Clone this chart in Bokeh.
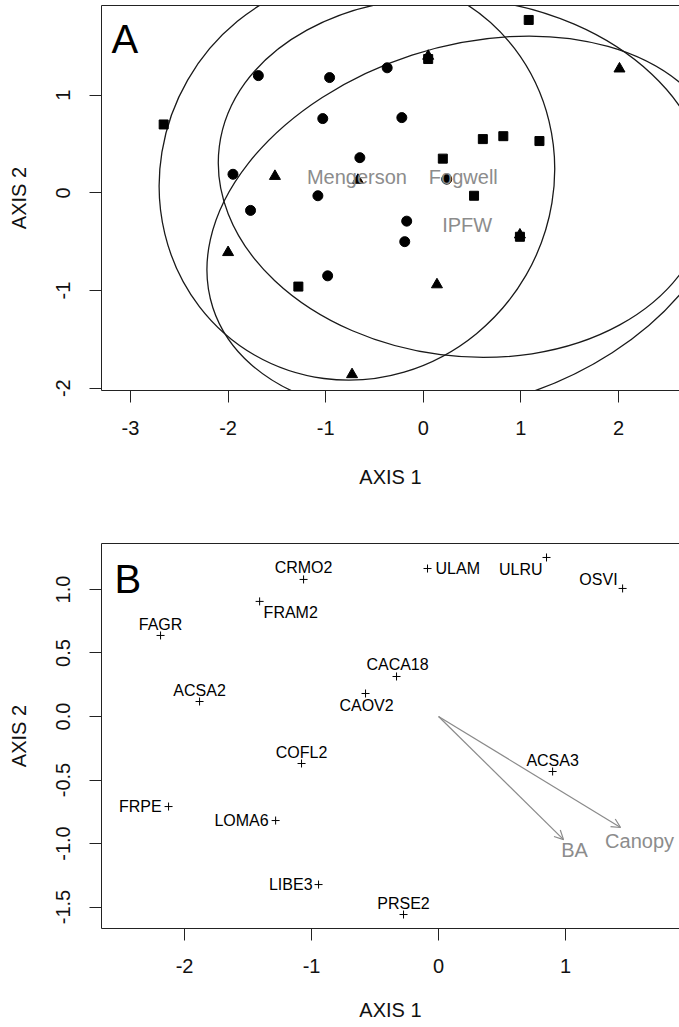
import math
from bokeh.plotting import figure
from bokeh.models import (Range1d, LinearAxis, FixedTicker, Label, Arrow, OpenHead,
                          ColumnDataSource, PrintfTickFormatter)
from bokeh.layouts import column
from bokeh.embed import file_html
from bokeh.resources import INLINE
from bokeh.core.properties import value

FONT = "Liberation Sans"
GREY = "#8c8c8c"

# ---------------- Panel A data ----------------
circle_x = [-1.69, -0.96, -1.03, -1.95, -1.08, -1.77, -0.37, -0.22, -0.65, 0.24, -0.17, -0.19, -0.98]
circle_y = [1.20, 1.18, 0.76, 0.19, -0.03, -0.18, 1.28, 0.77, 0.36, 0.14, -0.29, -0.50, -0.85]
square_x = [-2.66, 0.05, 1.08, 0.20, 0.61, 0.82, 1.19, 0.52, 0.99, -1.28]
square_y = [0.70, 1.37, 1.77, 0.35, 0.55, 0.58, 0.53, -0.03, -0.45, -0.96]
triangle_x = [-1.52, 0.05, 2.01, -0.67, 0.99, 0.14, -0.73, -2.00]
triangle_y = [0.17, 1.40, 1.27, 0.13, -0.43, -0.94, -1.86, -0.61]

site_names = ["Mengerson", "Fogwell", "IPFW"]
site_x = [-0.68, 0.41, 0.45]
site_y = [0.157, 0.157, -0.33]
ell_semi_major = [2.10, 2.52, 2.74]
ell_semi_minor = [2.00, 1.83, 1.83]
ell_angle_deg = [60.0, -7.3, 18.0]

a_xticks = [-3, -2, -1, 0, 1, 2]
a_yticks = [-2, -1, 0, 1]

# ---------------- Panel B data ----------------
species = ["CRMO2", "FRAM2", "FAGR", "ACSA2", "CACA18", "CAOV2", "ULAM", "ULRU",
           "OSVI", "COFL2", "ACSA3", "FRPE", "LOMA6", "LIBE3", "PRSE2"]
sp_x = [-1.063, -1.409, -2.189, -1.882, -0.331, -0.575, -0.087, 0.850,
        1.449, -1.079, 0.898, -2.126, -1.283, -0.945, -0.276]
sp_y = [1.079, 0.906, 0.638, 0.118, 0.315, 0.181, 1.165, 1.252,
        1.008, -0.370, -0.433, -0.709, -0.819, -1.323, -1.559]

env_names = ["BA", "Canopy"]
env_x = [0.984, 1.433]
env_y = [-0.969, -0.874]

b_xticks = [-2, -1, 0, 1]
b_yticks = [-1.5, -1.0, -0.5, 0.0, 0.5, 1.0]

# label placement (screen px offsets of label centre from point, and alignment)
sp_align = ["center", "left", "center", "center", "center", "center", "left", "right",
            "right", "center", "center", "right", "right", "right", "center"]
sp_dx = [0, 4, 0, 0, 1, 1, 8, -4, -5, 0, 0, -7, -7, -6, 0]
sp_dy = [-12, 11, -11, -11, -12, 12, 0, 12, -9, -11, -11, 0, 0, 0, -11]
env_dx = [11, 19]
env_dy = [10, 13]


def style_axes(p, xticks, yticks, fmt_x, fmt_y, x_std, x_lab_std, y_std, y_lab_std):
    p.xaxis.ticker = FixedTicker(ticks=xticks)
    p.yaxis.ticker = FixedTicker(ticks=yticks)
    p.xaxis.formatter = PrintfTickFormatter(format=fmt_x)
    p.yaxis.formatter = PrintfTickFormatter(format=fmt_y)
    for ax in (p.xaxis[0], p.yaxis[0]):
        ax.major_tick_out = 12
        ax.major_tick_in = 0
        ax.minor_tick_line_color = None
        ax.major_tick_line_color = "#222222"
        ax.axis_line_color = "#222222"
        ax.major_label_text_font = FONT
        ax.major_label_text_font_size = "20px"
        ax.major_label_text_color = "#111111"
        ax.axis_label_text_font = FONT
        ax.axis_label_text_font_size = "20px"
        ax.axis_label_text_font_style = "normal"
        ax.axis_label_text_color = "#111111"
    p.xaxis.axis_label = "AXIS 1"
    p.yaxis.axis_label = "AXIS 2"
    p.xaxis.major_label_standoff = x_std
    p.xaxis.axis_label_standoff = x_lab_std
    p.yaxis.major_label_standoff = y_std
    p.yaxis.axis_label_standoff = y_lab_std
    p.yaxis.major_label_orientation = "parallel"
    p.xgrid.visible = False
    p.ygrid.visible = False
    p.outline_line_color = None
    top = LinearAxis(ticker=FixedTicker(ticks=[]), major_tick_out=0, major_tick_in=0,
                     minor_tick_out=0, minor_tick_in=0, major_label_text_font_size="0px",
                     axis_line_color="#222222")
    p.add_layout(top, "above")


# ---------------- Panel A ----------------
A_X = (-3.297, 2.625)
A_Y = (-2.024, 1.918)
pa = figure(width=679, height=513, x_range=Range1d(*A_X), y_range=Range1d(*A_Y),
            output_backend="svg", toolbar_location=None,
            min_border_left=101, min_border_right=0, min_border_top=5, min_border_bottom=123)
style_axes(pa, a_xticks, a_yticks, "%d", "%d", 18, 28, 19, 24)

pa.ellipse(x=site_x, y=site_y,
           width=[2 * v for v in ell_semi_major], height=[2 * v for v in ell_semi_minor],
           angle=[math.radians(a) for a in ell_angle_deg],
           fill_color=None, line_color="#1a1a1a", line_width=1.3)
pa.scatter(circle_x, circle_y, marker="circle", size=10, color="black")
pa.scatter(square_x, square_y, marker="square", size=9, color="black")
pa.scatter(triangle_x, triangle_y, marker="triangle", size=11, color="black")
pa.text(x=site_x, y=site_y, text=site_names, text_font=value(FONT), text_font_size="20px",
        text_color=GREY, text_align="center", text_baseline="middle")
pa.add_layout(Label(x=A_X[0] + 10 / 97.6, y=A_Y[1] - 34 / 97.67, text="A", text_font=FONT,
                    text_font_size="40px", text_color="black", text_baseline="middle"))

# ---------------- Panel B ----------------
B_X = (-2.654, 1.897)
B_Y = (-1.669, 1.362)
pb = figure(width=679, height=514, x_range=Range1d(*B_X), y_range=Range1d(*B_Y),
            output_backend="svg", toolbar_location=None,
            min_border_left=101, min_border_right=0, min_border_top=30, min_border_bottom=99)
style_axes(pb, b_xticks, b_yticks, "%d", "%.1f", 18, 23, 19, 24)

arrow_src = ColumnDataSource(dict(x0=[0.0] * len(env_x), y0=[0.0] * len(env_y), x1=env_x, y1=env_y))
pb.add_layout(Arrow(x_start="x0", y_start="y0", x_end="x1", y_end="y1", source=arrow_src,
                    line_color="#8a8a8a", line_width=1.2,
                    end=OpenHead(size=9, line_color="#8a8a8a", line_width=1.2)))
pb.text(x=env_x, y=env_y, text=env_names, text_font=value(FONT), text_font_size="20px",
        text_color=GREY, text_align="center", text_baseline="middle",
        x_offset=env_dx, y_offset=env_dy)

pb.scatter(sp_x, sp_y, marker="cross", size=8, color="black", line_width=1)
for al in ("center", "left", "right"):
    idx = [i for i, a in enumerate(sp_align) if a == al]
    src = ColumnDataSource(dict(x=[sp_x[i] for i in idx], y=[sp_y[i] for i in idx],
                                t=[species[i] for i in idx],
                                dx=[sp_dx[i] for i in idx], dy=[sp_dy[i] for i in idx]))
    pb.text(x="x", y="y", text="t", source=src, text_font=value(FONT), text_font_size="16px",
            text_color="black", text_align=al, text_baseline="middle",
            x_offset="dx", y_offset="dy")

pb.add_layout(Label(x=B_X[0] + 13 / 127, y=B_Y[1] - 35 / 127, text="B", text_font=FONT,
                    text_font_size="40px", text_color="black", text_baseline="middle"))

layout = column(pa, pb, spacing=0)
open("out.html", "w").write(file_html(layout, INLINE))
